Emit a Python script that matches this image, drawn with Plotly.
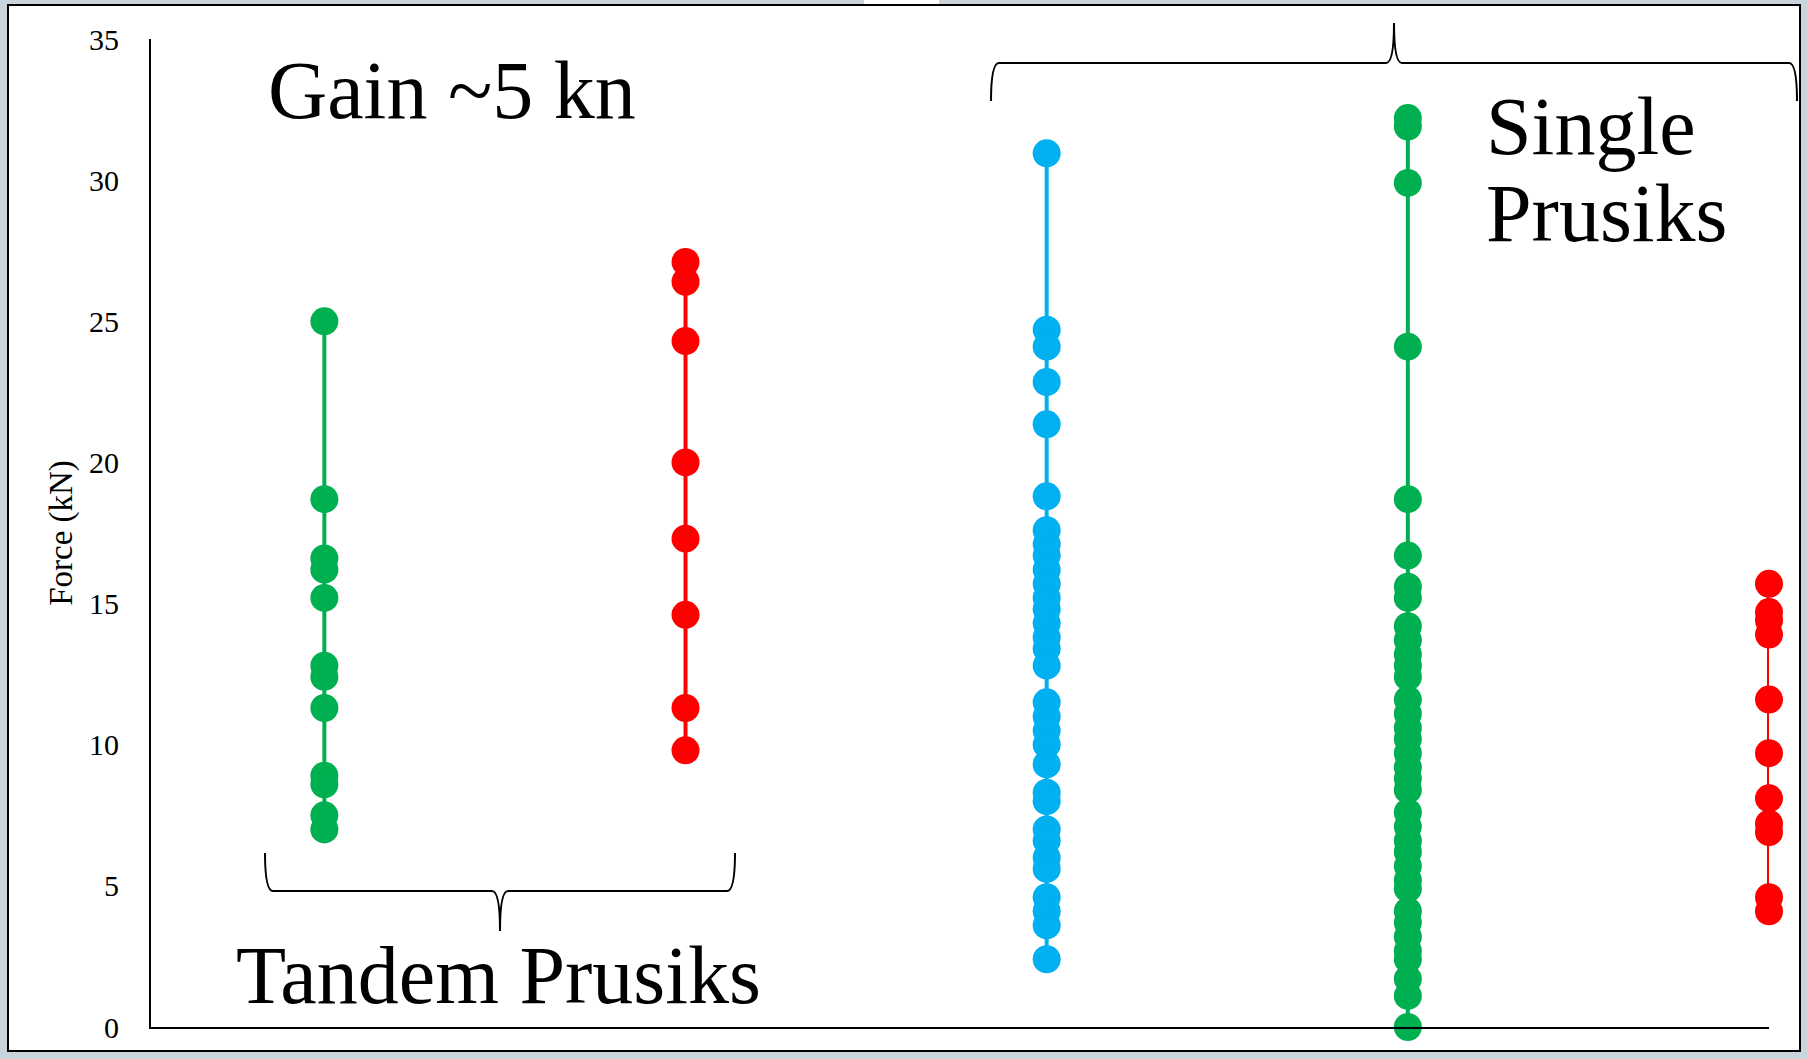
import plotly.graph_objects as go

# ---- data ----
categories = ["Tandem 1", "Tandem 2", "Single 1", "Single 2", "Single 3"]
tandem_green = [25.0, 18.7, 16.6, 16.2, 15.2, 12.8, 12.4, 11.3, 8.9, 8.6, 7.5, 7.0]
tandem_red = [27.1, 26.4, 24.3, 20.0, 17.3, 14.6, 11.3, 9.8]
single_blue = [30.95, 24.7, 24.1, 22.85, 21.35, 18.8, 17.6, 17.1, 16.7, 16.2, 15.7,
               15.2, 14.8, 14.3, 13.8, 13.4, 12.8, 11.5, 11.0, 10.5, 10.0, 9.3,
               8.3, 8.0, 7.0, 6.6, 6.0, 5.6, 4.6, 4.1, 3.6, 2.4]
single_green = [32.2, 31.9, 29.9, 24.1, 18.7, 16.7, 15.6, 15.2, 14.2, 13.7, 13.2,
                12.8, 12.4, 11.6, 11.1, 10.6, 10.2, 9.7, 9.2, 8.8, 8.4, 7.6, 7.1,
                6.6, 6.2, 5.7, 5.2, 4.9, 4.1, 3.7, 3.2, 2.7, 2.4, 1.7, 1.1, 0.0]
single_red = [15.7, 14.7, 14.4, 13.9, 11.6, 9.7, 8.1, 7.2, 6.9, 4.6, 4.1]
y_ticks = [0, 5, 10, 15, 20, 25, 30, 35]

series = [tandem_green, tandem_red, single_blue, single_green, single_red]
colors = ["#00B050", "#FF0000", "#00B0F0", "#00B050", "#FF0000"]

W, H = 1807, 1059
ML, MR, MT, MB = 151, 38, 39, 32
PW, PH = W - ML - MR, H - MT - MB

def px(x):
    return (x - ML) / PW

def py(y):
    return (H - MB - y) / PH

FONT = "Liberation Serif, Georgia, serif"

fig = go.Figure()
for cat, vals, col in zip(categories, series, colors):
    vs = sorted(vals, reverse=True)
    fig.add_trace(go.Scatter(
        x=[cat] * len(vs), y=vs, mode="lines+markers",
        line=dict(color=col, width=4),
        marker=dict(color=col, size=28, line=dict(width=0)),
        cliponaxis=False, showlegend=False, hoverinfo="y"))

shapes = []
# small white tab at top of the page frame
shapes.append(dict(type="rect", xref="paper", yref="paper",
                   x0=px(864), x1=px(939), y0=py(6), y1=py(0),
                   fillcolor="white", line=dict(width=0), layer="below"))
# page frame
shapes.append(dict(type="rect", xref="paper", yref="paper",
                   x0=px(8), x1=px(1800), y0=py(1051), y1=py(5),
                   fillcolor="white", line=dict(color="black", width=2), layer="below"))

def brace(x0, x1, yend, yline, ytip, r=8):
    xc = (x0 + x1) / 2
    pts = [
        f"M {px(x0)},{py(yend)}",
        f"Q {px(x0)},{py(yline)} {px(x0 + r)},{py(yline)}",
        f"L {px(xc - r)},{py(yline)}",
        f"Q {px(xc)},{py(yline)} {px(xc)},{py(ytip)}",
        f"M {px(xc)},{py(ytip)}",
        f"Q {px(xc)},{py(yline)} {px(xc + r)},{py(yline)}",
        f"L {px(x1 - r)},{py(yline)}",
        f"Q {px(x1)},{py(yline)} {px(x1)},{py(yend)}",
    ]
    return dict(type="path", xref="paper", yref="paper", path=" ".join(pts),
                line=dict(color="black", width=2))

shapes.append(brace(265, 735, 853, 891, 931))
shapes.append(brace(991, 1797, 101, 63, 23))

annotations = [
    dict(text="Gain ~5 kn", x=px(266), y=py(90), xanchor="left", yanchor="middle"),
    dict(text="Tandem Prusiks", x=px(234), y=py(975), xanchor="left", yanchor="middle"),
    dict(text="Single", x=px(1484), y=py(127), xanchor="left", yanchor="middle"),
    dict(text="Prusiks", x=px(1484), y=py(214), xanchor="left", yanchor="middle"),
]
for a in annotations:
    a.update(xref="paper", yref="paper", showarrow=False,
             font=dict(family=FONT, size=82, color="black"))

fig.update_layout(
    width=W, height=H,
    margin=dict(l=ML, r=MR, t=MT, b=MB, autoexpand=False),
    paper_bgcolor="#C9D4DB", plot_bgcolor="rgba(0,0,0,0)",
    shapes=shapes, annotations=annotations,
    xaxis=dict(type="category", categoryorder="array", categoryarray=categories,
               range=[-0.48, 4.0], showticklabels=False, showgrid=False,
               zeroline=False, showline=True, linecolor="black", linewidth=2,
               ticks="", fixedrange=True),
    yaxis=dict(range=[0, 35], tickvals=y_ticks, showgrid=False, zeroline=False,
               showline=True, linecolor="black", linewidth=2, ticks="",
               ticklabelstandoff=24,
               tickfont=dict(family=FONT, size=30, color="black"),
               title=dict(text="Force (kN)", standoff=6,
                          font=dict(family=FONT, size=33, color="black")),
               automargin=False, fixedrange=True),
    font=dict(family=FONT),
)

fig.write_html("out.html", config={"displayModeBar": False},
               post_script="document.body.style.margin='0';")
